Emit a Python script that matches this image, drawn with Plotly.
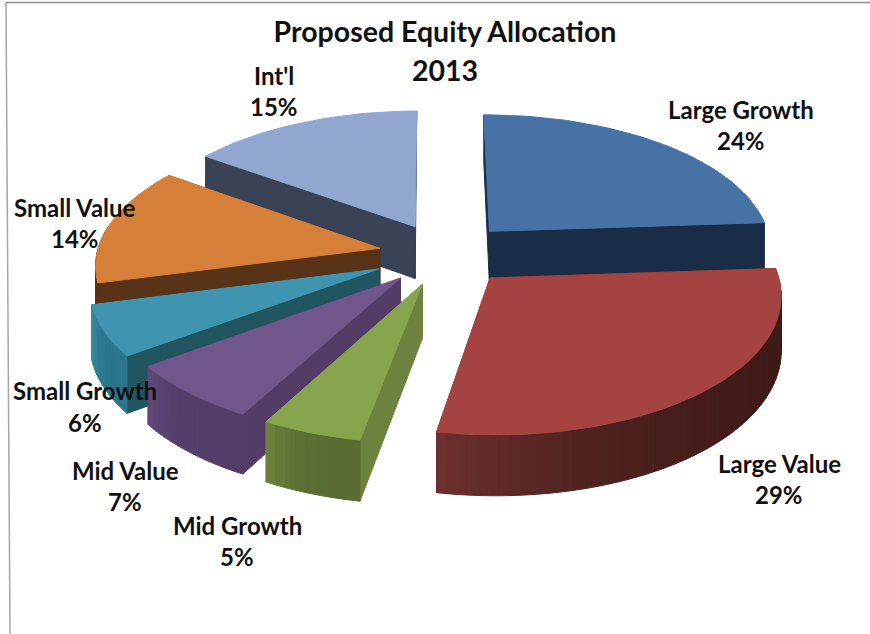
import numpy as np
import plotly.graph_objects as go

CATEGORIES = ["Large Growth", "Large Value", "Mid Growth", "Mid Value", "Small Growth", "Small Value", "Int'l"]
SHARES = [24, 29, 5, 7, 6, 14, 15]

TOP_COLORS = ["#4672a6", "#a54340", "#87a54c", "#71568c", "#3f95b0", "#d67f39", "#91a7cf"]
WALL_COLORS = ["#1a2d47", "#6b2c2a", "#6d823e", "#533d66", "#215560", "#583317", "#3a4256"]
ARC_START = [(26, 45, 71), (62, 26, 23), (90, 108, 50), (82, 62, 104), (42, 118, 140), (88, 51, 23), (58, 66, 86)]
ARC_END = [(26, 45, 71), (108, 48, 46), (106, 128, 60), (95, 72, 122), (62, 140, 165), (88, 51, 23), (58, 66, 86)]
DRAW_ORDER = [6, 0, 5, 4, 3, 2, 1]

LABEL_XY = [(741, 109, 140), (779, 463, 494), (237, 525, 556), (125, 470, 501),
            (85, 390, 422), (75, 207, 238), (274, 75, 106)]

CX, CY = 445, 254
RX, RY = 283, 134
PERSP = 0.11
EXPLODE = [0.235, 0.235, 0.235, 0.235, 0.256, 0.235, 0.235]
DEPTH = 53
ROTATE = np.radians(-0.3)


def project(px, pz, down=0):
    s = 1 / (1 + PERSP * pz)
    return CX + RX * px * s, CY - RY * pz * s + down * s


def add_poly(fig, pts, color):
    # repeat the first point so the outline closes and no edge bleeds
    xs = [p[0] for p in pts] + [pts[0][0]]
    ys = [p[1] for p in pts] + [pts[0][1]]
    fig.add_trace(go.Scatter(x=xs, y=ys, mode="lines", fill="toself", fillcolor=color,
                             line=dict(color=color, width=1), hoverinfo="skip", showlegend=False))


def main():
    fig = go.Figure()
    edges = np.cumsum([0] + SHARES) / sum(SHARES) * 2 * np.pi + ROTATE

    for i in DRAW_ORDER:
        a0, a1 = edges[i], edges[i + 1]
        mid = (a0 + a1) / 2
        ox, oz = EXPLODE[i] * np.sin(mid), EXPLODE[i] * np.cos(mid)
        angs = np.linspace(a0, a1, max(6, SHARES[i] * 2))
        ax = ox + np.sin(angs)
        az = oz + np.cos(angs)

        # back faces go first, the wedge is convex so the front ones cover them
        for a in (a0, a1):
            ex, ez = ox + np.sin(a), oz + np.cos(a)
            add_poly(fig, [project(ox, oz), project(ex, ez), project(ex, ez, DEPTH), project(ox, oz, DEPTH)],
                     WALL_COLORS[i])

        quads = sorted(range(len(angs) - 1), key=lambda k: -az[k])
        for k in quads:
            if np.cos(angs[k]) > 0.15:
                continue
            t = (k / (len(angs) - 2)) ** 3
            c = [int(s + (e - s) * t) for s, e in zip(ARC_START[i], ARC_END[i])]
            add_poly(fig, [project(ax[k], az[k]), project(ax[k + 1], az[k + 1]),
                           project(ax[k + 1], az[k + 1], DEPTH), project(ax[k], az[k], DEPTH)],
                     "rgb(%d,%d,%d)" % tuple(c))

        add_poly(fig, [project(ox, oz)] + [project(x, z) for x, z in zip(ax, az)], TOP_COLORS[i])

    for name, share, (x, y1, y2) in zip(CATEGORIES, SHARES, LABEL_XY):
        for text, y in ((name, y1), (f"{share}%", y2)):
            fig.add_annotation(x=x, y=y, text=text, showarrow=False,
                               font=dict(family="Lato", size=24, color="#111111", weight="bold"))

    fig.add_annotation(x=445, y=70, text="2013", showarrow=False,
                       font=dict(family="Lato", size=28.5, color="#111111", weight="bold"))

    fig.update_layout(
        width=870, height=634, margin=dict(l=0, r=0, t=0, b=0),
        paper_bgcolor="white", plot_bgcolor="white",
        title=dict(text="Proposed Equity Allocation", x=445 / 870, xanchor="center", y=1 - 32 / 634, yanchor="middle",
                   font=dict(family="Lato", size=28.5, color="#111111", weight="bold")),
        xaxis=dict(range=[0, 870], visible=False),
        yaxis=dict(range=[634, 0], visible=False),
        shapes=[
            dict(type="line", x0=6, x1=10, y0=3, y1=634, line=dict(color="#a6a6a6", width=1.5)),
            dict(type="line", x0=6, x1=870, y0=2.5, y1=2.5, line=dict(color="#8c8c8c", width=1.5)),
        ],
    )
    fig.write_html("out.html", config=dict(displayModeBar=False),
                   post_script="document.body.style.margin='0';")


if __name__ == "__main__":
    main()
